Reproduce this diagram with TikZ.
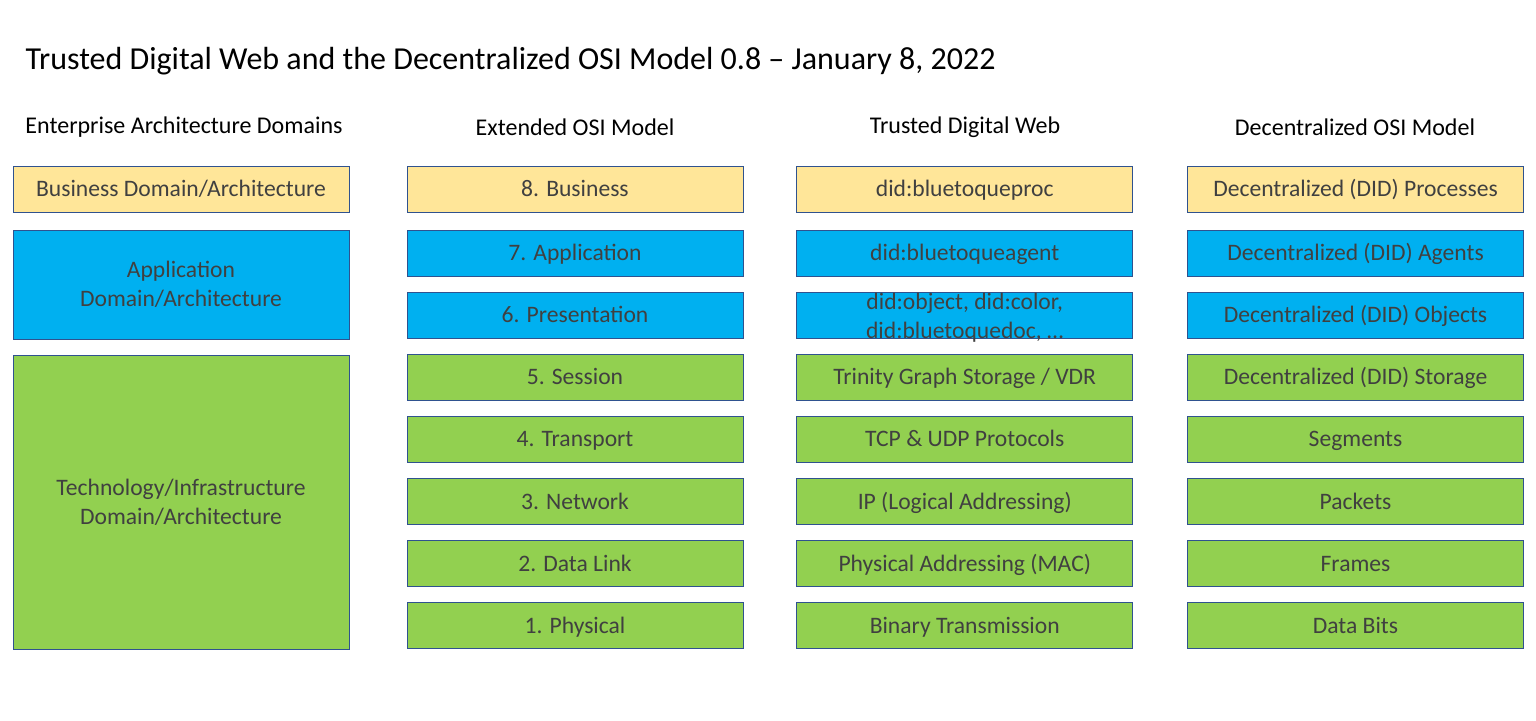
\documentclass[tikz,border=0pt]{standalone}
\usepackage{fontspec}
\setmainfont{Carlito}
\usetikzlibrary{positioning}
\definecolor{bizyellow}{HTML}{FFE699}
\definecolor{appblue}{HTML}{00B0F0}
\definecolor{techgreen}{HTML}{92D050}
\definecolor{edgeblue}{HTML}{2F528F}
\definecolor{txtgray}{HTML}{404040}
\tikzset{
    block/.style = {draw=edgeblue, line width=0.75pt, rectangle,
        minimum width=336pt, minimum height=46pt, inner sep=0pt,
        text height=15.5pt, text depth=0pt,
        align=center, text=txtgray, font=\fontsize{23.6}{28.5}\selectfont},
    bizblock/.style = {block, fill=bizyellow},
    appblock/.style = {block, fill=appblue},
    techblock/.style = {block, fill=techgreen},
    domblock/.style = {text height={}, text depth={}},
    header/.style = {font=\fontsize{24}{28}\selectfont}
}

\begin{document}
\begin{tikzpicture}[x=1pt, y=1pt, node distance=15.3pt]
    \useasboundingbox (0,0) rectangle (1536,-720);
    \node [anchor=west, font=\fontsize{32}{38}\selectfont] (title) at (22,-61) {Trusted Digital Web and the Decentralized OSI Model 0.8 -- January 8, 2022};
    % column headers
    \node [header] (eadhead) at (184,-127) {Enterprise Architecture Domains};
    \node [header] (osihead) at (575,-127) {Extended OSI Model};
    \node [header] (tdwhead) at (965,-127) {Trusted Digital Web};
    \node [header] (dosihead) at (1355,-127) {Decentralized OSI Model};
    % enterprise architecture domains
    \node [bizblock] (bizdom) at (181,-189) {Business Domain/Architecture};
    \node [appblock, domblock, minimum height=109pt, below=17.3pt of bizdom] (appdom) {Application\\Domain/Architecture};
    \node [techblock, domblock, minimum height=294pt, below=of appdom] (techdom) {Technology/Infrastructure\\Domain/Architecture};
    % extended osi model
    \node [bizblock] (osi8) at (575,-189) {8. Business};
    \node [appblock, below=17.3pt of osi8] (osi7) {7. Application};
    \node [appblock, below=of osi7] (osi6) {6. Presentation};
    \node [techblock, below=of osi6] (osi5) {5. Session};
    \node [techblock, below=of osi5] (osi4) {4. Transport};
    \node [techblock, below=of osi4] (osi3) {3. Network};
    \node [techblock, below=of osi3] (osi2) {2. Data Link};
    \node [techblock, below=of osi2] (osi1) {1. Physical};
    % trusted digital web
    \node [bizblock, right=53pt of osi8] (tdw8) {did:bluetoqueproc};
    \node [appblock, right=53pt of osi7] (tdw7) {did:bluetoqueagent};
    \node [appblock, right=53pt of osi6] (tdw6) {\raisebox{-1.5pt}{\smash{\begin{tabular}{@{}c@{}}did:object, did:color,\\[1pt]did:bluetoquedoc, …\end{tabular}}}};
    \node [techblock, right=53pt of osi5] (tdw5) {Trinity Graph Storage / VDR};
    \node [techblock, right=53pt of osi4] (tdw4) {TCP \& UDP Protocols};
    \node [techblock, right=53pt of osi3] (tdw3) {IP (Logical Addressing)};
    \node [techblock, right=53pt of osi2] (tdw2) {Physical Addressing (MAC)};
    \node [techblock, right=53pt of osi1] (tdw1) {Binary Transmission};
    % decentralized osi model
    \node [bizblock, right=54pt of tdw8] (dosi8) {Decentralized (DID) Processes};
    \node [appblock, right=54pt of tdw7] (dosi7) {Decentralized (DID) Agents};
    \node [appblock, right=54pt of tdw6] (dosi6) {Decentralized (DID) Objects};
    \node [techblock, right=54pt of tdw5] (dosi5) {Decentralized (DID) Storage};
    \node [techblock, right=54pt of tdw4] (dosi4) {Segments};
    \node [techblock, right=54pt of tdw3] (dosi3) {Packets};
    \node [techblock, right=54pt of tdw2] (dosi2) {Frames};
    \node [techblock, right=54pt of tdw1] (dosi1) {Data Bits};
\end{tikzpicture}
\end{document}
